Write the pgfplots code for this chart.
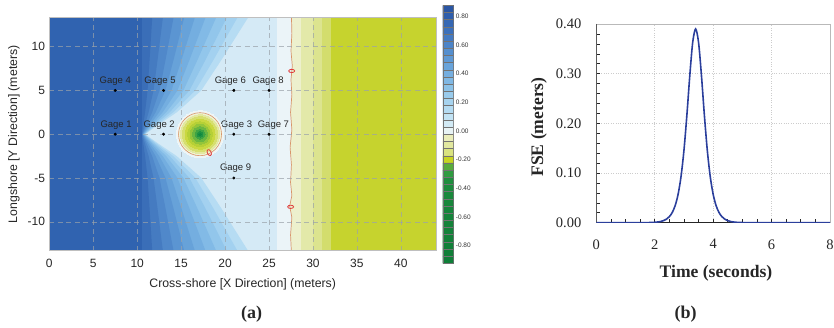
\documentclass[border=0pt]{standalone}
\usepackage{pgfplots}
\pgfplotsset{compat=1.18}
\usepackage{fontspec}
\setmainfont{Liberation Serif}
\newfontfamily\arial{Liberation Sans}
% field colours
\definecolor{dk}{HTML}{3063B0}
\definecolor{f1}{HTML}{3A6EB8}
\definecolor{f2}{HTML}{457BC1}
\definecolor{f3}{HTML}{5088CA}
\definecolor{f4}{HTML}{5B95D2}
\definecolor{f5}{HTML}{67A2D9}
\definecolor{f6}{HTML}{74AEE0}
\definecolor{f7}{HTML}{82BAE6}
\definecolor{f8}{HTML}{92C6EB}
\definecolor{f9}{HTML}{A3D1F0}
\definecolor{f10}{HTML}{B6DCF3}
\definecolor{inner}{HTML}{D5EAF6}
\definecolor{shore}{HTML}{EBF4F8}
\definecolor{yg}{HTML}{C6D32E}
\definecolor{p1}{HTML}{D3DD6D}
\definecolor{p2}{HTML}{DCE48F}
\definecolor{p3}{HTML}{E3E9A9}
\definecolor{p4}{HTML}{EDF0CD}
\definecolor{halo}{HTML}{EEF5F6}
\definecolor{s1}{HTML}{F0F2D8}
\definecolor{s2}{HTML}{E3E8A0}
\definecolor{s3}{HTML}{D6DF6E}
\definecolor{s4}{HTML}{CAD840}
\definecolor{s5}{HTML}{B6D036}
\definecolor{s6}{HTML}{94C53A}
\definecolor{s7}{HTML}{6AB641}
\definecolor{s8}{HTML}{3EA444}
\definecolor{s9}{HTML}{1E9343}
\definecolor{s10}{HTML}{0E8840}
\definecolor{rim}{HTML}{D8956A}
\definecolor{ell}{HTML}{E03C3C}
\definecolor{curve}{HTML}{2B3F9C}
\definecolor{gridc}{HTML}{9AA2AA}
% colorbar colours
\definecolor{cb1}{HTML}{2A56A4}
\definecolor{cb2}{HTML}{2F5EAC}
\definecolor{cb3}{HTML}{3567B4}
\definecolor{cb4}{HTML}{3C70BB}
\definecolor{cb5}{HTML}{447AC2}
\definecolor{cb6}{HTML}{4C84C8}
\definecolor{cb7}{HTML}{558FCF}
\definecolor{cb8}{HTML}{5F99D5}
\definecolor{cb9}{HTML}{69A4DB}
\definecolor{cb10}{HTML}{74AEE0}
\definecolor{cb11}{HTML}{80B8E4}
\definecolor{cb12}{HTML}{8CC2E8}
\definecolor{cb13}{HTML}{99CBEC}
\definecolor{cb14}{HTML}{A6D3EF}
\definecolor{cb15}{HTML}{B4DBF2}
\definecolor{cb16}{HTML}{C2E3F4}
\definecolor{cb17}{HTML}{D2EAF5}
\definecolor{cb18}{HTML}{E8F3F5}
\definecolor{cb19}{HTML}{EAEDBA}
\definecolor{cb20}{HTML}{E2E89F}
\definecolor{cb21}{HTML}{DAE380}
\definecolor{cb22}{HTML}{C8D522}
\definecolor{cb23}{HTML}{58AC3C}
\definecolor{cb24}{HTML}{2F9C40}
\definecolor{cb25}{HTML}{1F8E3E}
\definecolor{cb26}{HTML}{1C8B3D}
\definecolor{cb27}{HTML}{1A893C}
\definecolor{cb28}{HTML}{18873B}
\definecolor{cb29}{HTML}{16853B}
\definecolor{cb30}{HTML}{15843A}
\definecolor{cb31}{HTML}{14833A}
\definecolor{cb32}{HTML}{13823A}
\definecolor{cb33}{HTML}{128139}
\definecolor{cb34}{HTML}{118039}
\definecolor{cb35}{HTML}{107F38}
\definecolor{cb36}{HTML}{0F7E38}
\newcommand{\cbband}[3]{\addplot[fill=#1, draw=black!55, line width=0.3pt] coordinates {(0,#2) (1,#2) (1,#3) (0,#3) (0,#2)};}
\newcommand{\ring}[2]{\addplot[only marks, color=#2, mark=*, mark size=#1, mark options={fill=#2, draw=#2, line width=0pt}] coordinates {(17.15,0)};}
\begin{document}
\begin{tikzpicture}
\useasboundingbox (0,0) rectangle (834pt,327pt);
% ---------------- panel (a) ----------------
\begin{axis}[
  at={(49.3pt,76.3pt)}, anchor=south west, scale only axis,
  width=386.7pt, height=233pt,
  xmin=0, xmax=44, ymin=-13.3, ymax=13.3,
  xtick={0,5,10,15,20,25,30,35,40}, ytick={-10,-5,0,5,10},
  grid=major, grid style={dash pattern=on 5pt off 3.5pt, color=gridc, opacity=0.7, line width=0.45pt},
  axis on top,
  axis line style={draw=gray!50, line width=0.6pt},
  major tick length=0pt,
  tick label style={font=\arial\fontsize{12}{14}\selectfont, text=black!85, /pgf/number format/assume math mode=true},
  xticklabel style={yshift=-4.6pt},
  yticklabel style={xshift=-0.8pt},
]
\addplot[fill=yg, draw=none] coordinates {(-1,-14) (45,-14) (45,14) (-1,14)};
\addplot[fill=p1, draw=none] coordinates {(27,-14) (32.1,-14) (32.1,14) (27,14)};
\addplot[fill=p2, draw=none] coordinates {(27,-14) (31.0,-14) (31.0,14) (27,14)};
\addplot[fill=p3, draw=none] coordinates {(27,-14) (30.0,-14) (30.0,14) (27,14)};
\addplot[fill=p4, draw=none] coordinates {(27,-14) (28.6,-14) (28.6,14) (27,14)};
\addplot[fill=shore, draw=none] coordinates {(-1,13.6) (27.55,13.6) (27.6,11.5) (27.5,9.5) (27.65,7.8) (27.5,6.2) (27.6,4.5) (27.45,2.5) (27.6,0.5) (27.4,-1.5) (27.55,-3.5) (27.45,-5.5) (27.6,-7) (27.35,-8.2) (27.6,-9.5) (27.45,-11.5) (27.55,-13.6) (-1,-13.6)};
\addplot[fill=inner, draw=none] coordinates {(-1,13.6) (25.9,13.6) (25.9,-13.6) (-1,-13.6)};
% fan of contour bands
\addplot[fill=f10, draw=none] coordinates {(-1,13.6) (22.8,13.6) (19.6,8.5) (17.3,5) (14.5,2.5) (12.3,1) (10.9,0) (12.3,-1) (14.5,-2.5) (17.3,-5) (19.6,-8.5) (22.8,-13.6) (-1,-13.6)};
\addplot[fill=f9, draw=none] coordinates {(-1,13.6) (21.57,13.6) (18.69,8.5) (16.62,5) (14.1,2.5) (12.12,1) (10.86,0) (12.12,-1) (14.1,-2.5) (16.62,-5) (18.69,-8.5) (21.57,-13.6) (-1,-13.6)};
\addplot[fill=f8, draw=none] coordinates {(-1,13.6) (20.34,13.6) (17.78,8.5) (15.94,5) (13.7,2.5) (11.94,1) (10.82,0) (11.94,-1) (13.7,-2.5) (15.94,-5) (17.78,-8.5) (20.34,-13.6) (-1,-13.6)};
\addplot[fill=f7, draw=none] coordinates {(-1,13.6) (19.11,13.6) (16.87,8.5) (15.26,5) (13.3,2.5) (11.76,1) (10.78,0) (11.76,-1) (13.3,-2.5) (15.26,-5) (16.87,-8.5) (19.11,-13.6) (-1,-13.6)};
\addplot[fill=f6, draw=none] coordinates {(-1,13.6) (17.88,13.6) (15.96,8.5) (14.58,5) (12.9,2.5) (11.58,1) (10.74,0) (11.58,-1) (12.9,-2.5) (14.58,-5) (15.96,-8.5) (17.88,-13.6) (-1,-13.6)};
\addplot[fill=f5, draw=none] coordinates {(-1,13.6) (16.65,13.6) (15.05,8.5) (13.9,5) (12.5,2.5) (11.4,1) (10.7,0) (11.4,-1) (12.5,-2.5) (13.9,-5) (15.05,-8.5) (16.65,-13.6) (-1,-13.6)};
\addplot[fill=f4, draw=none] coordinates {(-1,13.6) (15.42,13.6) (14.14,8.5) (13.22,5) (12.1,2.5) (11.22,1) (10.66,0) (11.22,-1) (12.1,-2.5) (13.22,-5) (14.14,-8.5) (15.42,-13.6) (-1,-13.6)};
\addplot[fill=f3, draw=none] coordinates {(-1,13.6) (14.19,13.6) (13.23,8.5) (12.54,5) (11.7,2.5) (11.04,1) (10.62,0) (11.04,-1) (11.7,-2.5) (12.54,-5) (13.23,-8.5) (14.19,-13.6) (-1,-13.6)};
\addplot[fill=f2, draw=none] coordinates {(-1,13.6) (12.96,13.6) (12.32,8.5) (11.86,5) (11.3,2.5) (10.86,1) (10.58,0) (10.86,-1) (11.3,-2.5) (11.86,-5) (12.32,-8.5) (12.96,-13.6) (-1,-13.6)};
\addplot[fill=f1, draw=none] coordinates {(-1,13.6) (11.73,13.6) (11.41,8.5) (11.18,5) (10.9,2.5) (10.68,1) (10.54,0) (10.68,-1) (10.9,-2.5) (11.18,-5) (11.41,-8.5) (11.73,-13.6) (-1,-13.6)};
\addplot[fill=dk, draw=none] coordinates {(-1,13.6) (10.5,13.6) (10.5,-13.6) (-1,-13.6)};
% shoal
\ring{23.5pt}{halo}
\ring{21.3pt}{s1}
\ring{19.5pt}{s2}
\ring{17.5pt}{s3}
\ring{15pt}{s4}
\ring{12.5pt}{s5}
\ring{10pt}{s6}
\ring{7.5pt}{s7}
\ring{5pt}{s8}
\ring{2.8pt}{s9}
\ring{1.2pt}{s10}
\addplot[only marks, color=rim, mark=o, mark size=21.5pt, mark options={draw=rim, line width=0.6pt}] coordinates {(17.15,0)};
% shoreline
\addplot[draw=rim, line width=0.7pt] coordinates {(27.55,13.6) (27.6,11.5) (27.5,9.5) (27.65,7.8) (27.5,6.2) (27.6,4.5) (27.45,2.5) (27.6,0.5) (27.4,-1.5) (27.55,-3.5) (27.45,-5.5) (27.6,-7) (27.35,-8.2) (27.6,-9.5) (27.45,-11.5) (27.55,-13.6)};
% small red contours
\addplot[only marks, color=ell, mark=o, mark size=3pt, mark options={draw=ell, fill=p4, line width=0.8pt, yscale=0.55}] coordinates {(27.58,7.22) (27.46,-8.29)};
\addplot[only marks, color=ell, mark=o, mark size=3.2pt, mark options={draw=ell, fill=s2, line width=0.8pt, rotate=25, xscale=0.6}] coordinates {(18.2,-2.1)};
% gages
\addplot[only marks, mark=*, mark size=1.3pt, black] coordinates {(7.5,0) (13,0) (21,0) (7.5,5) (13,5) (21,5) (25,0) (25,5) (21,-5)};
\begin{scope}[every node/.style={font=\arial\fontsize{9.5}{11}\selectfont, text=black!85, anchor=base, inner sep=0pt}]
\node at (axis cs:7.6,0.75) {Gage 1};
\node at (axis cs:12.5,0.75) {Gage 2};
\node at (axis cs:21.3,0.75) {Gage 3};
\node at (axis cs:7.5,5.75) {Gage 4};
\node at (axis cs:12.6,5.75) {Gage 5};
\node at (axis cs:20.6,5.75) {Gage 6};
\node at (axis cs:25.5,0.75) {Gage 7};
\node at (axis cs:24.9,5.75) {Gage 8};
\node at (axis cs:21.2,-4.2) {Gage 9};
\end{scope}
\end{axis}
% ---------------- colour bar ----------------
\begin{axis}[
  at={(442.7pt,63.7pt)}, anchor=south west, scale only axis,
  width=10.6pt, height=258pt,
  xmin=0, xmax=1, ymin=-0.9, ymax=0.9,
  xtick=\empty, ytick={-0.8,-0.6,-0.4,-0.2,0,0.2,0.4,0.6,0.8},
  yticklabel pos=right, major tick length=0pt,
  axis line style={draw=black!55, line width=0.4pt},
  y tick label style={font=\arial\fontsize{6.5}{7}\selectfont, text=black!80, yshift=3.5pt, xshift=-1pt,
    /pgf/number format/.cd, fixed, fixed zerofill, precision=2, assume math mode=true},
]
\cbband{cb1}{0.85}{0.90}
\cbband{cb2}{0.80}{0.85}
\cbband{cb3}{0.75}{0.80}
\cbband{cb4}{0.70}{0.75}
\cbband{cb5}{0.65}{0.70}
\cbband{cb6}{0.60}{0.65}
\cbband{cb7}{0.55}{0.60}
\cbband{cb8}{0.50}{0.55}
\cbband{cb9}{0.45}{0.50}
\cbband{cb10}{0.40}{0.45}
\cbband{cb11}{0.35}{0.40}
\cbband{cb12}{0.30}{0.35}
\cbband{cb13}{0.25}{0.30}
\cbband{cb14}{0.20}{0.25}
\cbband{cb15}{0.15}{0.20}
\cbband{cb16}{0.10}{0.15}
\cbband{cb17}{0.05}{0.10}
\cbband{cb18}{0.00}{0.05}
\cbband{cb19}{-0.05}{0.00}
\cbband{cb20}{-0.10}{-0.05}
\cbband{cb21}{-0.15}{-0.10}
\cbband{cb22}{-0.20}{-0.15}
\cbband{cb23}{-0.25}{-0.20}
\cbband{cb24}{-0.30}{-0.25}
\cbband{cb25}{-0.35}{-0.30}
\cbband{cb26}{-0.40}{-0.35}
\cbband{cb27}{-0.45}{-0.40}
\cbband{cb28}{-0.50}{-0.45}
\cbband{cb29}{-0.55}{-0.50}
\cbband{cb30}{-0.60}{-0.55}
\cbband{cb31}{-0.65}{-0.60}
\cbband{cb32}{-0.70}{-0.65}
\cbband{cb33}{-0.75}{-0.70}
\cbband{cb34}{-0.80}{-0.75}
\cbband{cb35}{-0.85}{-0.80}
\cbband{cb36}{-0.90}{-0.85}
\end{axis}
% ---------------- panel (b) ----------------
\begin{axis}[
  at={(596.3pt,104.3pt)}, anchor=south west, scale only axis,
  width=233.7pt, height=198.7pt,
  xmin=0, xmax=8, ymin=0, ymax=0.4,
  xtick={0,2,4,6,8}, ytick={0,0.1,0.2,0.3,0.4},
  minor x tick num=3, minor y tick num=4,
  grid=major, grid style={dotted, color=gray!40, line width=0.5pt},
  tick align=inside, tick pos=left,
  major tick length=4pt, minor tick length=4pt,
  tick style={black!85, line width=0.6pt},
  axis line style={draw=gray!55, line width=0.6pt},
  tick label style={font=\fontsize{14.5}{16}\selectfont, text=black!85, /pgf/number format/assume math mode=true},
  xticklabel style={yshift=-13.2pt},
  yticklabel style={xshift=-11.5pt, /pgf/number format/.cd, fixed, fixed zerofill, precision=2},
]
\draw[black!85, line width=1pt] (rel axis cs:0,1) -- (rel axis cs:0,0) -- (rel axis cs:1,0);
\addplot[curve, line width=1.6pt, smooth] coordinates {
(0,0) (1,0) (1.8,0.0003) (2.0,0.0008) (2.1,0.0014) (2.2,0.0024) (2.3,0.0042) (2.4,0.0071)
(2.5,0.0122) (2.6,0.0205) (2.7,0.0345) (2.8,0.0572) (2.9,0.0929) (3.0,0.1455) (3.1,0.2160)
(3.2,0.2958) (3.3,0.3631) (3.4,0.3900) (3.5,0.3631) (3.6,0.2958) (3.7,0.2160) (3.8,0.1455)
(3.9,0.0929) (4.0,0.0572) (4.1,0.0345) (4.2,0.0205) (4.3,0.0122) (4.4,0.0071) (4.5,0.0042)
(4.6,0.0024) (4.7,0.0014) (4.8,0.0008) (5.0,0.0003) (6,0) (7,0) (8,0)};
\end{axis}
% ---------------- labels ----------------
\node[font=\arial\fontsize{12.3}{14}\selectfont, text=black!85, anchor=base, inner sep=0pt] at (242.7pt,40pt) {Cross-shore [X Direction] (meters)};
\node[font=\arial\fontsize{12.3}{14}\selectfont, text=black!85, anchor=base, inner sep=0pt, rotate=90] at (17.1pt,192.8pt) {Longshore [Y Direction] (meters)};
\node[font=\bfseries\fontsize{17.6}{20}\selectfont, text=black!85, anchor=base, inner sep=0pt] at (716pt,49.7pt) {Time (seconds)};
\node[font=\bfseries\fontsize{17.6}{20}\selectfont, text=black!85, anchor=base, inner sep=0pt, rotate=90] at (543pt,200pt) {FSE (meters)};
\node[font=\bfseries\fontsize{18}{20}\selectfont, text=black!85, anchor=base, inner sep=0pt] at (251.5pt,8.7pt) {(a)};
\node[font=\bfseries\fontsize{18}{20}\selectfont, text=black!85, anchor=base, inner sep=0pt] at (685.7pt,8.7pt) {(b)};
\end{tikzpicture}
\end{document}
